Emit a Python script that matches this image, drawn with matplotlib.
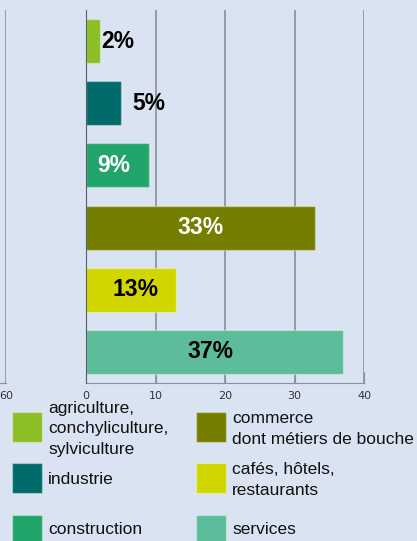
import matplotlib
matplotlib.use("Agg")
import matplotlib.pyplot as plt
from matplotlib.patches import Rectangle

# data
sectors = ["agriculture,\nconchyliculture,\nsylviculture", "industrie", "construction",
           "commerce\ndont métiers de bouche", "cafés, hôtels,\nrestaurants", "services"]
shares = [2, 5, 9, 33, 13, 37]
colors = ["#8cbf26", "#006b6b", "#22a56b", "#767e00", "#d2d600", "#5dbd9b"]
x_ticks = [0, 10, 20, 30, 40]

# label styling: inside bar or not, text colour, small pixel nudge
label_inside = [False, False, True, True, True, True]
label_color = ["black", "black", "white", "white", "black", "black"]
label_dx = [1, 12, -4, 0, 4, -4]

BG = "#dae3f2"
GRID = "#8a8f98"
W, H = 417, 541
SANS = ["Liberation Sans", "DejaVu Sans"]


def fx(x):
    return x / W


def fy(y):
    return 1 - y / H


fig = plt.figure(figsize=(W / 100, H / 100), dpi=100, facecolor=BG)

# main bar chart
ax = fig.add_axes([fx(86), fy(383), 278 / W, 373 / H], facecolor=BG)
y = list(range(len(shares)))
ax.barh(y, shares, height=0.71, color=colors, edgecolor=(1, 1, 1, 0.35), lw=1, zorder=3)
ax.set_ylim(len(shares) - 0.5, -0.5)
ax.set_xlim(0, 40)
ax.set_xticks(x_ticks)
ax.set_yticks([])
ax.grid(axis="x", color=GRID, lw=1.2, zorder=0)
ax.tick_params(axis="x", direction="in", length=8, color=GRID, labelsize=8,
               labelcolor="#333333", pad=6)
for s in ["top", "right"]:
    ax.spines[s].set_visible(False)
ax.spines["left"].set_color("#5a5f66")
ax.spines["bottom"].set_color(GRID)
ax.spines["left"].set_zorder(4)

for i, v in enumerate(shares):
    if label_inside[i]:
        xpos, ha = v / 2, "center"
    else:
        xpos, ha = v, "left"
    ax.annotate(f"{v}%", (xpos, i), xytext=(label_dx[i] * 0.72, 0), textcoords="offset points",
                ha=ha, va="center", fontsize=16.5, fontweight="bold", family=SANS,
                color=label_color[i], zorder=5)

# edge of the neighbouring panel on the left
ax2 = fig.add_axes([fx(-280), fy(383), 286 / W, 373 / H], facecolor=BG)
ax2.set_xlim(0, 60)
ax2.set_xticks([60])
ax2.set_yticks([])
ax2.grid(axis="x", color=GRID, lw=1.2)
ax2.tick_params(axis="x", direction="in", length=0, labelsize=8, labelcolor="#333333", pad=6)
for s in ["top", "right", "left"]:
    ax2.spines[s].set_visible(False)
ax2.spines["bottom"].set_color(GRID)

# legend, two columns of three
col_x = [12, 196]
row_top = [412, 463, 515]
text_cy = [429, 480, 530]
for i, (lab, c) in enumerate(zip(sectors, colors)):
    col, row = divmod(i, 3)
    fig.add_artist(Rectangle((fx(col_x[col]), fy(row_top[row] + 30)), 30 / W, 30 / H,
                             transform=fig.transFigure, facecolor=c,
                             edgecolor=(1, 1, 1, 0.35), lw=1))
    fig.text(fx(col_x[col] + 36), fy(text_cy[row]), lab, ha="left", va="center",
             fontsize=12.5, family=SANS, color="#111111", linespacing=1.45)

fig.savefig("out.png", dpi=100, facecolor=BG)
